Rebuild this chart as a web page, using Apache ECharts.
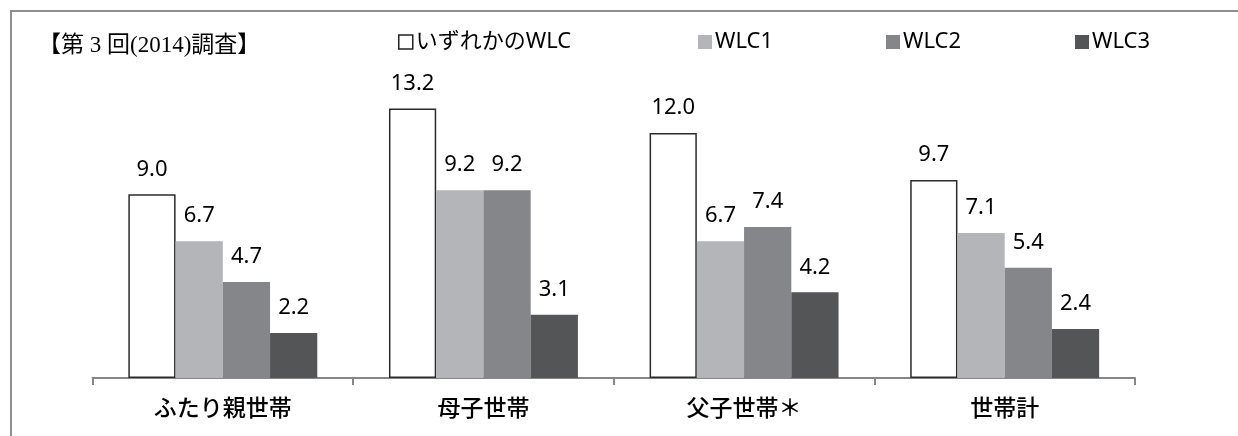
<!DOCTYPE html>
<html>
<head>
<meta charset="utf-8">
<script src="https://cdn.jsdelivr.net/npm/echarts@6/dist/echarts.min.js"></script>
<style>
html,body{margin:0;padding:0;background:#fff;}
#c{width:1238px;height:436px;}
</style>
</head>
<body>
<div id="c"></div>
<script>
const categories = ['ふたり親世帯', '母子世帯', '父子世帯＊', '世帯計'];
const seriesNames = ['いずれかのWLC', 'WLC1', 'WLC2', 'WLC3'];
const anyWLC = [9.0, 13.2, 12.0, 9.7];
const wlc1 = [6.7, 9.2, 6.7, 7.1];
const wlc2 = [4.7, 9.2, 7.4, 5.4];
const wlc3 = [2.2, 3.1, 4.2, 2.4];
const titleText = '【第 3 回(2014)調査】';

const values = [anyWLC, wlc1, wlc2, wlc3];
const fills = ['#ffffff', '#b4b5b9', '#858689', '#545557'];
const legendLefts = [393, 693, 881, 1070];
const sansFont = "'Noto Sans', 'Noto Sans CJK JP', sans-serif";

const chart = echarts.init(document.getElementById('c'), null, {renderer: 'canvas'});

const series = values.map((v, i) => ({
  name: seriesNames[i],
  type: 'bar',
  data: v,
  barGap: '0%',
  barCategoryGap: '27.5%',
  itemStyle: {
    color: fills[i],
    borderColor: i === 0 ? '#2b2b2b' : fills[i],
    borderWidth: i === 0 ? 1.5 : 0
  },
  label: {
    show: true,
    position: 'top',
    distance: 14,
    formatter: p => p.value.toFixed(1),
    fontFamily: sansFont,
    fontSize: 22,
    color: '#000'
  }
}));

const legends = seriesNames.map((n, i) => ({
  data: [{name: n, itemStyle: i === 0 ? {color: '#fff', borderColor: '#222', borderWidth: 1.5} : {}}],
  left: legendLefts[i],
  top: 26,
  itemWidth: 14,
  itemHeight: 14,
  itemGap: 6,
  icon: 'rect',
  selectedMode: false,
  textStyle: {fontFamily: sansFont, fontSize: 22, color: '#000', padding: [0, 0, 0, -2]}
}));

chart.setOption({
  animation: false,
  backgroundColor: '#fff',
  title: {
    text: titleText,
    left: 38,
    top: 34,
    padding: 0,
    textStyle: {fontFamily: "'Liberation Serif', 'Noto Sans CJK JP', serif", fontSize: 23, fontWeight: 'normal', color: '#000'}
  },
  legend: legends,
  graphic: [{
    type: 'rect',
    shape: {x: 11, y: 11, width: 1300, height: 500},
    style: {fill: 'none', stroke: '#8f8f8f', lineWidth: 2},
    silent: true
  }],
  grid: {left: 92.5, right: 103, top: 92.2, bottom: 58},
  xAxis: {
    type: 'category',
    data: categories,
    axisLine: {lineStyle: {color: '#878787', width: 2}},
    axisTick: {show: true, length: 7, lineStyle: {color: '#878787', width: 2}},
    axisLabel: {fontFamily: "'Noto Sans CJK JP', sans-serif", fontSize: 23, fontWeight: 500, color: '#000', margin: 18}
  },
  yAxis: {
    type: 'value',
    min: 0,
    max: 14,
    show: false,
    splitLine: {show: false}
  },
  series: series
});
</script>
</body>
</html>
